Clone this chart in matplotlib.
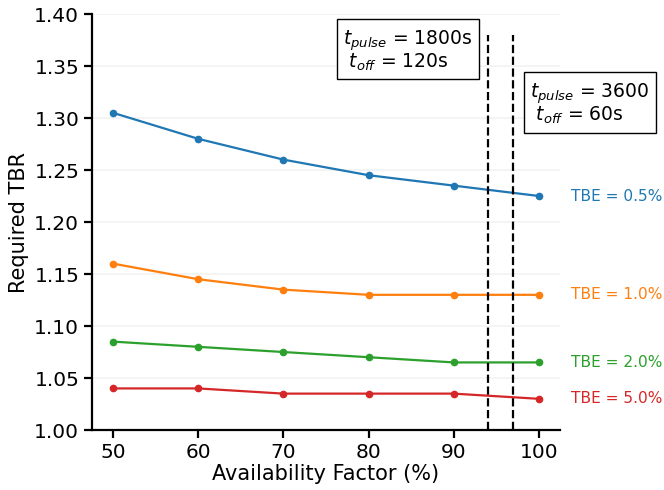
import matplotlib
matplotlib.use("Agg")
import matplotlib.pyplot as plt

availability = [50, 60, 70, 80, 90, 100]
tbr_tbe_05 = [1.305, 1.28, 1.26, 1.245, 1.235, 1.225]
tbr_tbe_10 = [1.16, 1.145, 1.135, 1.13, 1.13, 1.13]
tbr_tbe_20 = [1.085, 1.08, 1.075, 1.07, 1.065, 1.065]
tbr_tbe_50 = [1.04, 1.04, 1.035, 1.035, 1.035, 1.03]
series_labels = ["TBE = 0.5%", "TBE = 1.0%", "TBE = 2.0%", "TBE = 5.0%"]
colors = ["#1f77b4", "#ff7f0e", "#2ca02c", "#d62728"]
pulse_cases_x = [94, 97]

fig = plt.figure(figsize=(6.64, 4.90), dpi=100)
ax = fig.add_axes([0.1381, 0.1224, 0.7057, 0.849])

for ys, lab, c in zip([tbr_tbe_05, tbr_tbe_10, tbr_tbe_20, tbr_tbe_50], series_labels, colors):
    ax.plot(availability, ys, color=c, marker="o", markersize=4.5, linewidth=1.6)
    ax.text(103.75, ys[-1], lab, color=c, fontsize=11.1, ha="left", va="center",
            clip_on=False)

for xv in pulse_cases_x:
    ax.vlines(xv, 1.0, 1.38, colors="black", linestyles="--", linewidth=1.6)

box = dict(boxstyle="square,pad=0.34", facecolor="white", edgecolor="black")
ax.text(77.0, 1.386, "$t_{pulse}$ = 1800s\n $t_{off}$ = 120s", fontsize=13.5,
        ha="left", va="top", bbox=box, linespacing=0.92)
ax.text(99.0, 1.335, "$t_{pulse}$ = 3600\n $t_{off}$ = 60s", fontsize=13.5,
        ha="left", va="top", bbox=box, linespacing=0.92, clip_on=False)

ax.set_xlim(47.5, 102.5)
ax.set_ylim(1.0, 1.4)
ax.set_xticks(availability)
ax.set_yticks([1.0, 1.05, 1.1, 1.15, 1.2, 1.25, 1.3, 1.35, 1.4])
ax.yaxis.set_major_formatter(matplotlib.ticker.FormatStrFormatter("%.2f"))
ax.tick_params(labelsize=14.5, width=1.6, length=5.5)
ax.grid(axis="y", color="#f2f2f2", linewidth=1.2)
ax.set_axisbelow(True)
for s in ["top", "right"]:
    ax.spines[s].set_visible(False)
for s in ["left", "bottom"]:
    ax.spines[s].set_linewidth(1.6)
ax.set_xlabel("Availability Factor (%)", fontsize=15, labelpad=2)
ax.set_ylabel("Required TBR", fontsize=15, labelpad=4)

fig.savefig("out.png", dpi=100)
